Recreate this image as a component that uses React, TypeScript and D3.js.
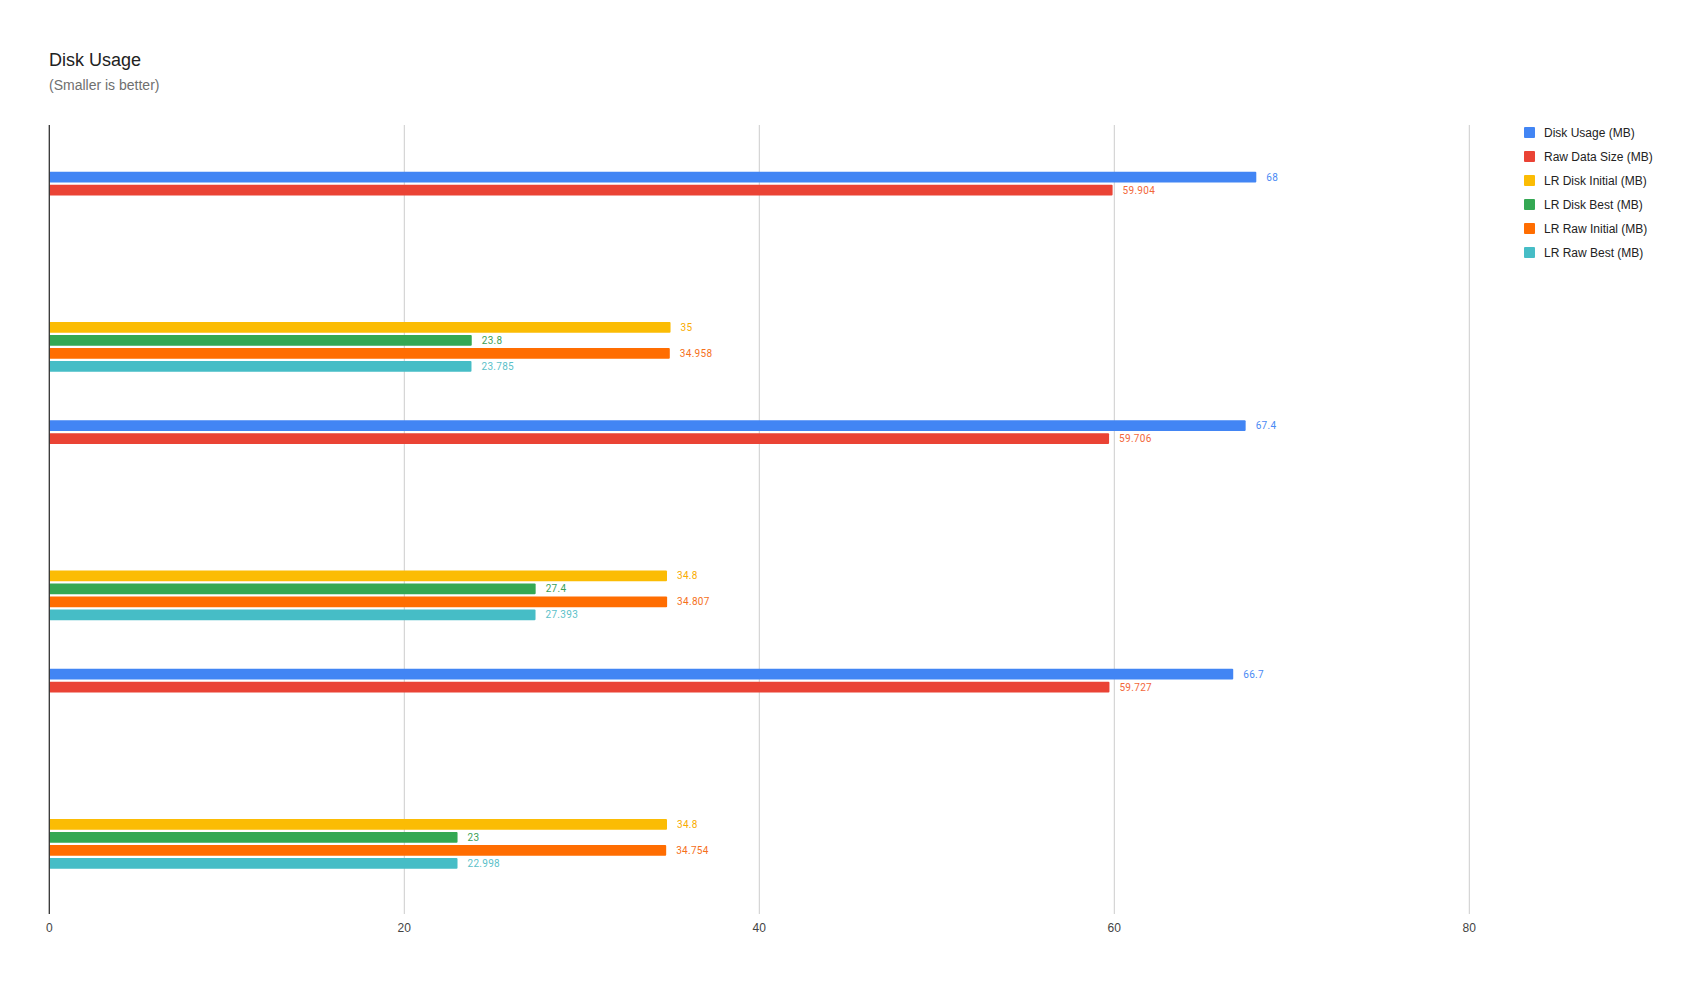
import React from 'react';
import { scaleBand, scaleLinear } from 'd3';

// chart values
const categories = ['Set 1 Disk', 'Set 1 LR', 'Set 2 Disk', 'Set 2 LR', 'Set 3 Disk', 'Set 3 LR'];
const seriesNames = ['Disk Usage (MB)', 'Raw Data Size (MB)', 'LR Disk Initial (MB)', 'LR Disk Best (MB)', 'LR Raw Initial (MB)', 'LR Raw Best (MB)'];
const diskUsage = [68, null, 67.4, null, 66.7, null];
const rawDataSize = [59.904, null, 59.706, null, 59.727, null];
const lrDiskInitial = [null, 35, null, 34.8, null, 34.8];
const lrDiskBest = [null, 23.8, null, 27.4, null, 23];
const lrRawInitial = [null, 34.958, null, 34.807, null, 34.754];
const lrRawBest = [null, 23.785, null, 27.393, null, 22.998];
const xTicks = [0, 20, 40, 60, 80];

const seriesValues: Array<Array<number | null>> = [diskUsage, rawDataSize, lrDiskInitial, lrDiskBest, lrRawInitial, lrRawBest];
const colors = ['#4285f4', '#ea4335', '#fbbc04', '#34a853', '#ff6d01', '#46bdc6'];
const labelColors = ['#4a8af4', '#f2673a', '#f9ab00', '#3c9f58', '#f5701a', '#5bbfc9'];

const App = () => {
    const width = 1703;
    const height = 984;
    const margin = { top: 125, bottom: 914, left: 49.3, right: 1469.3 };

    const x = scaleLinear().domain([0, 80]).range([margin.left, margin.right]);
    const y0 = scaleBand<string>().domain(categories).range([margin.top + 0.8, margin.bottom + 0.8]).paddingInner(0).paddingOuter(0.175);
    const groupWidth = y0.bandwidth() * 0.61;
    const y1 = scaleBand<string>().domain(seriesNames)
        .range([(y0.bandwidth() - groupWidth) / 2, (y0.bandwidth() + groupWidth) / 2])
        .paddingInner(0.17);

    const bars: Array<JSX.Element> = [];
    categories.forEach((cat, ci) => {
        seriesNames.forEach((s, si) => {
            const v = seriesValues[si][ci];
            if (v == null) return;
            const yy = (y0(cat) as number) + (y1(s) as number);
            bars.push(
                <g key={cat + s}>
                    <rect x={x(0)} y={yy} width={x(v) - x(0)} height={y1.bandwidth()} fill={colors[si]} rx={1} />
                    <text x={x(v) + 10} y={yy + y1.bandwidth() / 2} dy="0.35em" fontSize={10} fill={labelColors[si]}
                        letterSpacing={0.3} fontFamily="Roboto, Arial, sans-serif">{String(v)}</text>
                </g>
            );
        });
    });

    return (
        <div style={{ position: 'absolute', left: 0, top: 0, width: width, height: height, background: '#fff' }}>
            <svg width={width} height={height} style={{ display: 'block' }} fontFamily="'Liberation Sans', Arial, sans-serif">
                <rect x={0} y={0} width={width} height={height} fill="#fff" />
                <text x={49} y={66} fontSize={18} fill="#222">Disk Usage</text>
                <text x={49} y={90} fontSize={14} fill="#6f6f6f">(Smaller is better)</text>

                {/* gridlines */}
                {xTicks.filter(t => t != 0).map(t =>
                    <line key={t} x1={x(t)} x2={x(t)} y1={margin.top} y2={margin.bottom} stroke="#cccccc" strokeWidth={1} />
                )}

                <g>{bars}</g>

                <line x1={x(0)} x2={x(0)} y1={margin.top} y2={margin.bottom} stroke="#333" strokeWidth={1.3} />

                {xTicks.map(t =>
                    <text key={t} x={x(t)} y={932} fontSize={12} fill="#444" textAnchor="middle">{t}</text>
                )}

                {/* legend */}
                {seriesNames.map((s, i) =>
                    <g key={s} transform={`translate(1524,${127 + i * 24})`}>
                        <rect x={0} y={0} width={11} height={11} rx={1} fill={colors[i]} />
                        <text x={20} y={5.5} dy="0.35em" fontSize={12} fill="#222">{s}</text>
                    </g>
                )}
            </svg>
        </div>
    );
}

export default App;
